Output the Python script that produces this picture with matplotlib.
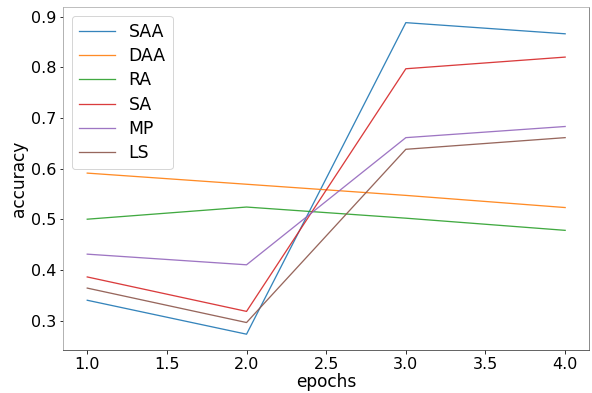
import matplotlib
matplotlib.use("Agg")
import matplotlib.pyplot as plt

epochs = [1, 2, 3, 4]
saa = [0.340, 0.273, 0.888, 0.866]
daa = [0.591, 0.569, 0.547, 0.523]
ra = [0.500, 0.524, 0.502, 0.478]
sa = [0.386, 0.318, 0.797, 0.820]
mp = [0.431, 0.410, 0.661, 0.683]
ls = [0.364, 0.296, 0.638, 0.661]

series = [("SAA", saa), ("DAA", daa), ("RA", ra), ("SA", sa), ("MP", mp), ("LS", ls)]

plt.rcParams['font.size'] = 16
fig, ax = plt.subplots(figsize=(592 / 72, 393 / 72), dpi=72)
for name, vals in series:
    ax.plot(epochs, vals, label=name, linewidth=1.3, alpha=0.9)

# spines in the reference look softened (light on top/left, darker right/bottom)
ax.spines['top'].set_color('#b0b0b0')
ax.spines['left'].set_color('#a0a0a0')
ax.spines['right'].set_color('#707070')
ax.spines['bottom'].set_color('#404040')

ax.set_xlabel('epochs', fontsize=17, labelpad=1)
ax.set_ylabel('accuracy', fontsize=17, labelpad=3)
ax.legend(loc='upper left', fontsize=17.2, labelspacing=0.37, handlelength=2.1)
fig.subplots_adjust(left=0.107, right=0.995, top=0.982, bottom=0.11)
fig.savefig('out.png')
